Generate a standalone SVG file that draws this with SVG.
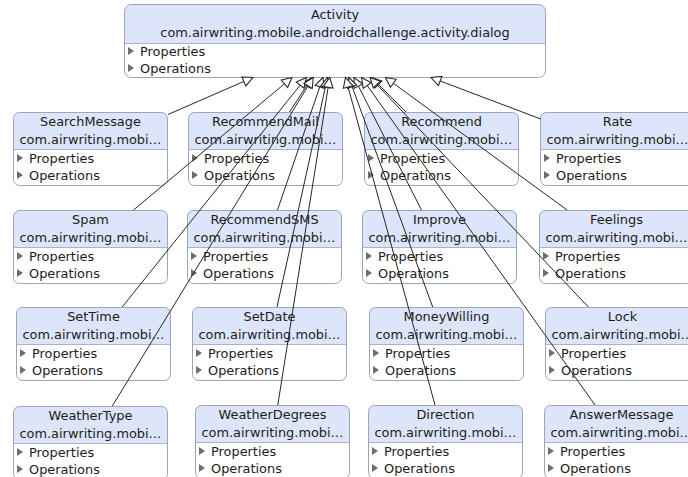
<svg xmlns="http://www.w3.org/2000/svg" xmlns:xlink="http://www.w3.org/1999/xlink" width="688" height="477" viewBox="0 0 688 477">
  <style>
    text { font-family: "DejaVu Sans", "Liberation Sans", sans-serif; font-size: 12.9px; fill: #1c1c1c; }
    .name { text-anchor: middle; }
    .head { fill: #dce5f9; }
    .body { fill: #ffffff; }
    .frame { fill: none; stroke: #9ba5bf; stroke-width: 1; }
    .sep { stroke: #a9b3cb; stroke-width: 1; }
    .tri { fill: #6e6e6e; }
    .edge { fill: none; stroke: #262626; stroke-width: 1; marker-end: url(#gen); }
  </style>
  <defs>
    <!-- hollow generalization arrowhead -->
    <marker id="gen" markerUnits="userSpaceOnUse" markerWidth="12" markerHeight="12" viewBox="-1 -1 11 11" refX="9" refY="4.5" orient="auto">
      <path d="M0,0 L9,4.5 L0,9 Z" fill="#ffffff" stroke="#262626" stroke-width="1"/>
    </marker>
    <!-- shared class box shape (154 x 73) -->
    <g id="classBox">
      <rect class="body" x="0.5" y="0.5" width="154" height="73" rx="6"/>
      <path class="head" d="M0.5,37.5 V6.5 Q0.5,0.5 6.5,0.5 H148.5 Q154.5,0.5 154.5,6.5 V37.5 Z"/>
      <line class="sep" x1="0.5" y1="37.5" x2="154.5" y2="37.5"/>
      <rect class="frame" x="0.5" y="0.5" width="154" height="73" rx="6"/>
      <path class="tri" d="M4,42 L10,46 L4,50 Z"/>
      <path class="tri" d="M4,59 L10,63 L4,67 Z"/>
    </g>
  </defs>

  <!-- parent class -->
  <g id="activity" transform="translate(124,4)">
    <rect class="body" x="0.5" y="0.5" width="421" height="73" rx="7"/>
    <path class="head" d="M0.5,39.5 V7.5 Q0.5,0.5 7.5,0.5 H414.5 Q421.5,0.5 421.5,7.5 V39.5 Z"/>
    <line class="sep" x1="0.5" y1="39.5" x2="421.5" y2="39.5"/>
    <rect class="frame" x="0.5" y="0.5" width="421" height="73" rx="7"/>
    <path class="tri" d="M4,43 L10,47 L4,51 Z"/>
    <path class="tri" d="M4,60 L10,64 L4,68 Z"/>
    <text class="name" x="211" y="15">Activity</text>
    <text class="name" x="211" y="33">com.airwriting.mobile.androidchallenge.activity.dialog</text>
    <text x="16" y="52">Properties</text>
    <text x="16" y="69">Operations</text>
  </g>

  <!-- row 1 -->
  <g id="searchMessage" transform="translate(13,112)">
    <use xlink:href="#classBox"/>
    <text class="name" x="77.5" y="14">SearchMessage</text>
    <text class="name" x="77.5" y="32">com.airwriting.mobi…</text>
    <text x="16" y="51">Properties</text>
    <text x="16" y="68">Operations</text>
  </g>
  <g id="recommendMail" transform="translate(188,112)">
    <use xlink:href="#classBox"/>
    <text class="name" x="77.5" y="14">RecommendMail</text>
    <text class="name" x="77.5" y="32">com.airwriting.mobi…</text>
    <text x="16" y="51">Properties</text>
    <text x="16" y="68">Operations</text>
  </g>
  <g id="recommend" transform="translate(364,112)">
    <use xlink:href="#classBox"/>
    <text class="name" x="77.5" y="14">Recommend</text>
    <text class="name" x="77.5" y="32">com.airwriting.mobi…</text>
    <text x="16" y="51">Properties</text>
    <text x="16" y="68">Operations</text>
  </g>
  <g id="rate" transform="translate(540,112)">
    <use xlink:href="#classBox"/>
    <text class="name" x="77.5" y="14">Rate</text>
    <text class="name" x="77.5" y="32">com.airwriting.mobi…</text>
    <text x="16" y="51">Properties</text>
    <text x="16" y="68">Operations</text>
  </g>

  <!-- row 2 -->
  <g id="spam" transform="translate(13,210)">
    <use xlink:href="#classBox"/>
    <text class="name" x="77.5" y="14">Spam</text>
    <text class="name" x="77.5" y="32">com.airwriting.mobi…</text>
    <text x="16" y="51">Properties</text>
    <text x="16" y="68">Operations</text>
  </g>
  <g id="recommendSMS" transform="translate(187,210)">
    <use xlink:href="#classBox"/>
    <text class="name" x="77.5" y="14">RecommendSMS</text>
    <text class="name" x="77.5" y="32">com.airwriting.mobi…</text>
    <text x="16" y="51">Properties</text>
    <text x="16" y="68">Operations</text>
  </g>
  <g id="improve" transform="translate(362,210)">
    <use xlink:href="#classBox"/>
    <text class="name" x="77.5" y="14">Improve</text>
    <text class="name" x="77.5" y="32">com.airwriting.mobi…</text>
    <text x="16" y="51">Properties</text>
    <text x="16" y="68">Operations</text>
  </g>
  <g id="feelings" transform="translate(539,210)">
    <use xlink:href="#classBox"/>
    <text class="name" x="77.5" y="14">Feelings</text>
    <text class="name" x="77.5" y="32">com.airwriting.mobi…</text>
    <text x="16" y="51">Properties</text>
    <text x="16" y="68">Operations</text>
  </g>

  <!-- row 3 -->
  <g id="setTime" transform="translate(16,307)">
    <use xlink:href="#classBox"/>
    <text class="name" x="77.5" y="14">SetTime</text>
    <text class="name" x="77.5" y="32">com.airwriting.mobi…</text>
    <text x="16" y="51">Properties</text>
    <text x="16" y="68">Operations</text>
  </g>
  <g id="setDate" transform="translate(192,307)">
    <use xlink:href="#classBox"/>
    <text class="name" x="77.5" y="14">SetDate</text>
    <text class="name" x="77.5" y="32">com.airwriting.mobi…</text>
    <text x="16" y="51">Properties</text>
    <text x="16" y="68">Operations</text>
  </g>
  <g id="moneyWilling" transform="translate(369,307)">
    <use xlink:href="#classBox"/>
    <text class="name" x="77.5" y="14">MoneyWilling</text>
    <text class="name" x="77.5" y="32">com.airwriting.mobi…</text>
    <text x="16" y="51">Properties</text>
    <text x="16" y="68">Operations</text>
  </g>
  <g id="lock" transform="translate(545,307)">
    <use xlink:href="#classBox"/>
    <text class="name" x="77.5" y="14">Lock</text>
    <text class="name" x="77.5" y="32">com.airwriting.mobi…</text>
    <text x="16" y="51">Properties</text>
    <text x="16" y="68">Operations</text>
  </g>

  <!-- row 4 -->
  <g id="weatherType" transform="translate(13,406)">
    <use xlink:href="#classBox"/>
    <text class="name" x="77.5" y="14">WeatherType</text>
    <text class="name" x="77.5" y="32">com.airwriting.mobi…</text>
    <text x="16" y="51">Properties</text>
    <text x="16" y="68">Operations</text>
  </g>
  <g id="weatherDegrees" transform="translate(195,405)">
    <use xlink:href="#classBox"/>
    <text class="name" x="77.5" y="14">WeatherDegrees</text>
    <text class="name" x="77.5" y="32">com.airwriting.mobi…</text>
    <text x="16" y="51">Properties</text>
    <text x="16" y="68">Operations</text>
  </g>
  <g id="direction" transform="translate(368,405)">
    <use xlink:href="#classBox"/>
    <text class="name" x="77.5" y="14">Direction</text>
    <text class="name" x="77.5" y="32">com.airwriting.mobi…</text>
    <text x="16" y="51">Properties</text>
    <text x="16" y="68">Operations</text>
  </g>
  <g id="answerMessage" transform="translate(544,405)">
    <use xlink:href="#classBox"/>
    <text class="name" x="77.5" y="14">AnswerMessage</text>
    <text class="name" x="77.5" y="32">com.airwriting.mobi…</text>
    <text x="16" y="51">Properties</text>
    <text x="16" y="68">Operations</text>
  </g>

  <!-- generalization edges: child centre towards parent centre, clipped at both boxes -->
  <g id="connectors">
    <line class="edge" x1="168" y1="114.5" x2="252.9" y2="77.5"/>
    <line class="edge" x1="289.5" y1="112" x2="312" y2="77.5"/>
    <line class="edge" x1="406" y1="112" x2="371.5" y2="77.5"/>
    <line class="edge" x1="541" y1="119.1" x2="431" y2="77.5"/>

    <line class="edge" x1="133.5" y1="210" x2="292" y2="77.5"/>
    <line class="edge" x1="277.5" y1="210" x2="323" y2="77.5"/>
    <line class="edge" x1="421.5" y1="210" x2="354" y2="77.5"/>
    <line class="edge" x1="567.1" y1="210" x2="385.4" y2="77.5"/>

    <line class="edge" x1="122.2" y1="307" x2="306.3" y2="77.5"/>
    <line class="edge" x1="277" y1="307" x2="327.5" y2="77.5"/>
    <line class="edge" x1="432.7" y1="307" x2="348.8" y2="77.5"/>
    <line class="edge" x1="588.4" y1="307" x2="370.1" y2="77.5"/>

    <line class="edge" x1="112.3" y1="406" x2="313.2" y2="77.5"/>
    <line class="edge" x1="277.8" y1="405" x2="329.7" y2="77.5"/>
    <line class="edge" x1="435" y1="405" x2="345.5" y2="77.5"/>
    <line class="edge" x1="595" y1="405" x2="361.5" y2="77.5"/>
  </g>
</svg>
